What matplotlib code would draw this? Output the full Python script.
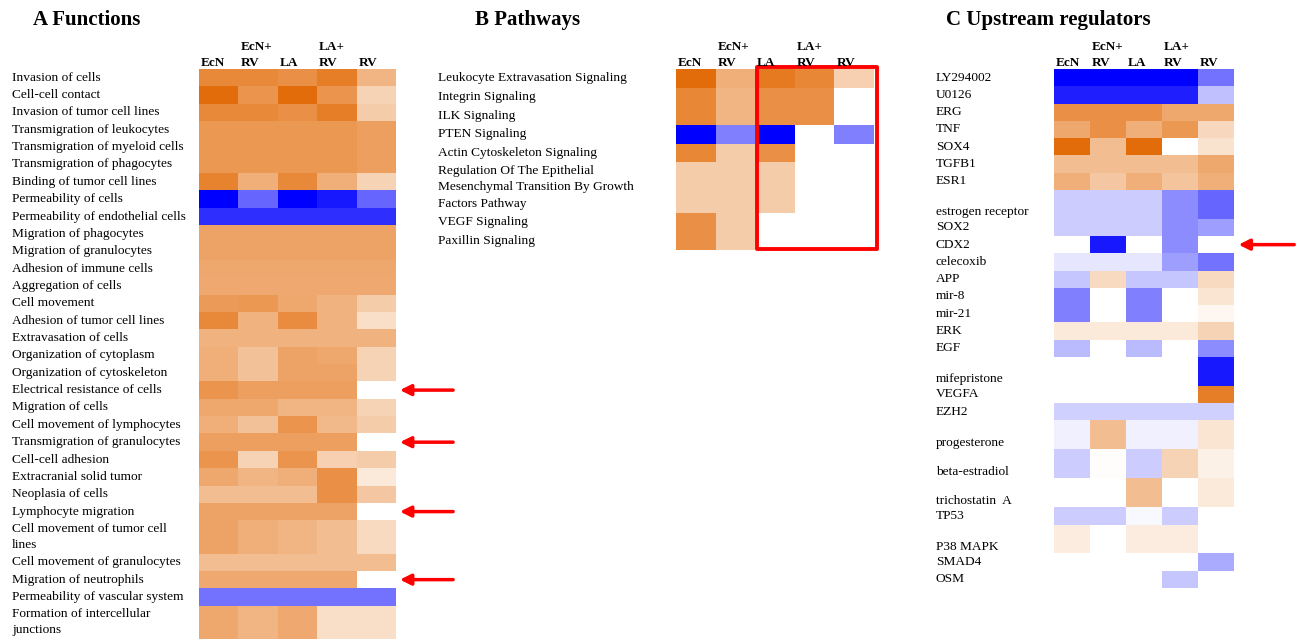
import numpy as np
import matplotlib
matplotlib.use("Agg")
import matplotlib.pyplot as plt
from matplotlib.colors import LinearSegmentedColormap
from matplotlib.patches import Rectangle
from matplotlib.transforms import blended_transform_factory

plt.rcParams['font.family'] = ['Liberation Serif', 'DejaVu Serif']

nan = np.nan

# groups (columns) shared by all three heatmaps
groups = ['EcN', 'EcN+\nRV', 'LA', 'LA+\nRV', 'RV']

# A  functions (relative activation score, + orange / - blue)
func_labels = [
    'Invasion of cells', 'Cell-cell contact', 'Invasion of tumor cell lines',
    'Transmigration of leukocytes', 'Transmigration of myeloid cells',
    'Transmigration of phagocytes', 'Binding of tumor cell lines',
    'Permeability of cells', 'Permeability of endothelial cells',
    'Migration of phagocytes', 'Migration of granulocytes',
    'Adhesion of immune cells', 'Aggregation of cells', 'Cell movement',
    'Adhesion of tumor cell lines', 'Extravasation of cells',
    'Organization of cytoplasm', 'Organization of cytoskeleton',
    'Electrical resistance of cells', 'Migration of cells',
    'Cell movement of lymphocytes', 'Transmigration of granulocytes',
    'Cell-cell adhesion', 'Extracranial solid tumor', 'Neoplasia of cells',
    'Lymphocyte migration', 'Cell movement of tumor cell\nlines',
    'Cell movement of granulocytes', 'Migration of neutrophils',
    'Permeability of vascular system', 'Formation of intercellular\njunctions',
]
func_values = [
    [0.80, 0.80, 0.75, 0.88, 0.50],
    [1.00, 0.72, 1.00, 0.72, 0.30],
    [0.80, 0.80, 0.75, 0.88, 0.35],
    [0.70, 0.70, 0.70, 0.70, 0.65],
    [0.70, 0.70, 0.70, 0.70, 0.65],
    [0.70, 0.70, 0.70, 0.70, 0.65],
    [0.85, 0.55, 0.80, 0.55, 0.30],
    [-1.00, -0.60, -1.00, -0.90, -0.60],
    [-0.82, -0.82, -0.82, -0.82, -0.82],
    [0.62, 0.62, 0.62, 0.62, 0.62],
    [0.62, 0.62, 0.62, 0.62, 0.62],
    [0.60, 0.60, 0.60, 0.60, 0.60],
    [0.58, 0.58, 0.58, 0.58, 0.58],
    [0.68, 0.70, 0.60, 0.52, 0.35],
    [0.80, 0.52, 0.78, 0.52, 0.22],
    [0.52, 0.52, 0.52, 0.52, 0.52],
    [0.55, 0.42, 0.62, 0.60, 0.30],
    [0.55, 0.42, 0.62, 0.62, 0.30],
    [0.72, 0.65, 0.65, 0.65, nan],
    [0.60, 0.60, 0.50, 0.50, 0.30],
    [0.55, 0.42, 0.72, 0.48, 0.35],
    [0.65, 0.65, 0.65, 0.65, nan],
    [0.72, 0.30, 0.72, 0.32, 0.35],
    [0.60, 0.50, 0.55, 0.75, 0.15],
    [0.45, 0.45, 0.45, 0.75, 0.38],
    [0.62, 0.62, 0.62, 0.62, nan],
    [0.62, 0.55, 0.50, 0.45, 0.25],
    [0.45, 0.45, 0.45, 0.45, 0.45],
    [0.58, 0.58, 0.58, 0.58, nan],
    [-0.55, -0.55, -0.55, -0.55, -0.55],
    [0.60, 0.50, 0.58, 0.22, 0.22],
]
func_arrows = ['Electrical resistance of cells', 'Transmigration of granulocytes',
               'Lymphocyte migration', 'Migration of neutrophils']

# B  pathways
path_labels = [
    'Leukocyte Extravasation Signaling', 'Integrin Signaling', 'ILK Signaling',
    'PTEN Signaling', 'Actin Cytoskeleton Signaling',
    'Regulation Of The Epithelial\nMesenchymal Transition By Growth\nFactors Pathway',
    'VEGF Signaling', 'Paxillin Signaling',
]
path_values = [
    [1.00, 0.55, 0.90, 0.82, 0.32],
    [0.82, 0.50, 0.75, 0.75, nan],
    [0.82, 0.50, 0.75, 0.75, nan],
    [-1.00, -0.50, -1.00, nan, -0.50],
    [0.82, 0.35, 0.75, nan, nan],
    [0.35, 0.35, 0.35, nan, nan],
    [0.75, 0.35, nan, nan, nan],
    [0.75, 0.35, nan, nan, nan],
]

# C  upstream regulators (leading blank line = taller row)
reg_labels = [
    'LY294002', 'U0126', 'ERG', 'TNF', 'SOX4', 'TGFB1', 'ESR1',
    '\nestrogen receptor', 'SOX2', 'CDX2', 'celecoxib', 'APP', 'mir-8',
    'mir-21', 'ERK', 'EGF', '\nmifepristone', 'VEGFA', 'EZH2',
    '\nprogesterone', '\nbeta-estradiol', '\ntrichostatin  A', 'TP53',
    '\nP38 MAPK', 'SMAD4', 'OSM',
]
reg_values = [
    [-1.00, -1.00, -1.00, -1.00, -0.55],
    [-0.88, -0.88, -0.88, -0.88, -0.25],
    [0.75, 0.75, 0.75, 0.60, 0.60],
    [0.60, 0.75, 0.55, 0.70, 0.27],
    [1.00, 0.45, 1.00, nan, 0.20],
    [0.45, 0.45, 0.45, 0.45, 0.60],
    [0.55, 0.38, 0.55, 0.40, 0.55],
    [-0.20, -0.20, -0.20, -0.45, -0.60],
    [-0.20, -0.20, -0.20, -0.45, -0.38],
    [nan, -0.90, nan, -0.45, nan],
    [-0.10, -0.10, -0.10, -0.38, -0.55],
    [-0.22, 0.25, -0.22, -0.22, 0.25],
    [-0.50, nan, -0.50, nan, 0.18],
    [-0.50, nan, -0.50, nan, 0.06],
    [0.15, 0.15, 0.15, 0.15, 0.30],
    [-0.27, nan, -0.27, nan, -0.45],
    [nan, nan, nan, nan, -0.90],
    [nan, nan, nan, nan, 0.88],
    [-0.18, -0.18, -0.18, -0.18, -0.18],
    [-0.06, 0.45, -0.06, -0.06, 0.18],
    [-0.20, 0.01, -0.20, 0.30, 0.10],
    [nan, nan, 0.45, nan, 0.15],
    [-0.20, -0.20, -0.03, -0.20, nan],
    [0.13, nan, 0.13, 0.13, nan],
    [nan, nan, nan, nan, -0.33],
    [nan, nan, nan, -0.22, nan],
]
reg_arrows = ['CDX2']

W, H = 1296, 639
fig = plt.figure(figsize=(W / 100, H / 100), dpi=100)
cmap = LinearSegmentedColormap.from_list('bwo', ['#0000FF', '#FFFFFF', '#E36C0A'])


def draw_panel(box, labels, values, extra, label_x, title, title_x):
    # box = left, top, right, bottom in pixels from the top-left corner
    x0, y0, x1, y1 = box
    ax = fig.add_axes([x0 / W, 1 - y1 / H, (x1 - x0) / W, (y1 - y0) / H])
    heights = [1 + extra * lab.count('\n') for lab in labels]
    edges = np.concatenate([[0], np.cumsum(heights)])
    data = np.ma.masked_invalid(np.array(values, dtype=float))
    ax.pcolormesh(np.arange(len(groups) + 1), edges, data, cmap=cmap, vmin=-1, vmax=1)
    ax.set_xlim(0, len(groups))
    ax.set_ylim(edges[-1], 0)
    ax.axis('off')

    trans = blended_transform_factory(fig.transFigure, ax.transData)
    centers = (edges[:-1] + edges[1:]) / 2
    for lab, yc in zip(labels, centers):
        ax.text(label_x / W, yc, lab, transform=trans, ha='left', va='center',
                fontsize=9.6, linespacing=1.45)
    for i, g in enumerate(groups):
        ax.text(i + 0.05, -0.02, g, ha='left', va='bottom', fontsize=9.5,
                fontweight='bold', linespacing=1.45)
    fig.text(title_x / W, 1 - 20 / H, title, ha='left', va='center',
             fontsize=15, fontweight='bold')
    return ax, dict(zip(labels, centers)), edges


axA, rowsA, edgesA = draw_panel((199, 69, 396, 639), func_labels, func_values, 0.92, 12,
                                'A Functions', 33)
axB, rowsB, edgesB = draw_panel((676, 69, 874, 250), path_labels, path_values, 0.85, 438,
                                'B Pathways', 475)
axC, rowsC, edgesC = draw_panel((1054, 69, 1234, 588), reg_labels, reg_values, 0.68, 936,
                                'C Upstream regulators', 946)

# red box around LA .. RV columns in B
axB.add_patch(Rectangle((2.04, -0.1), 3.03, edgesB[-1] + 0.05,
                        fill=False, ec='#FF0000', lw=2.8, clip_on=False, joinstyle='round'))

# arrows marking rows missing in RV
for lab in func_arrows:
    axA.annotate('', xy=(5.03, rowsA[lab]), xytext=(6.52, rowsA[lab]),
                 arrowprops=dict(arrowstyle='-|>', color='#FF0000', lw=2.5,
                                 mutation_scale=16), annotation_clip=False)
for lab in reg_arrows:
    axC.annotate('', xy=(5.05, rowsC[lab]), xytext=(6.75, rowsC[lab]),
                 arrowprops=dict(arrowstyle='-|>', color='#FF0000', lw=2.5,
                                 mutation_scale=16), annotation_clip=False)

plt.savefig('out.png', dpi=100)
